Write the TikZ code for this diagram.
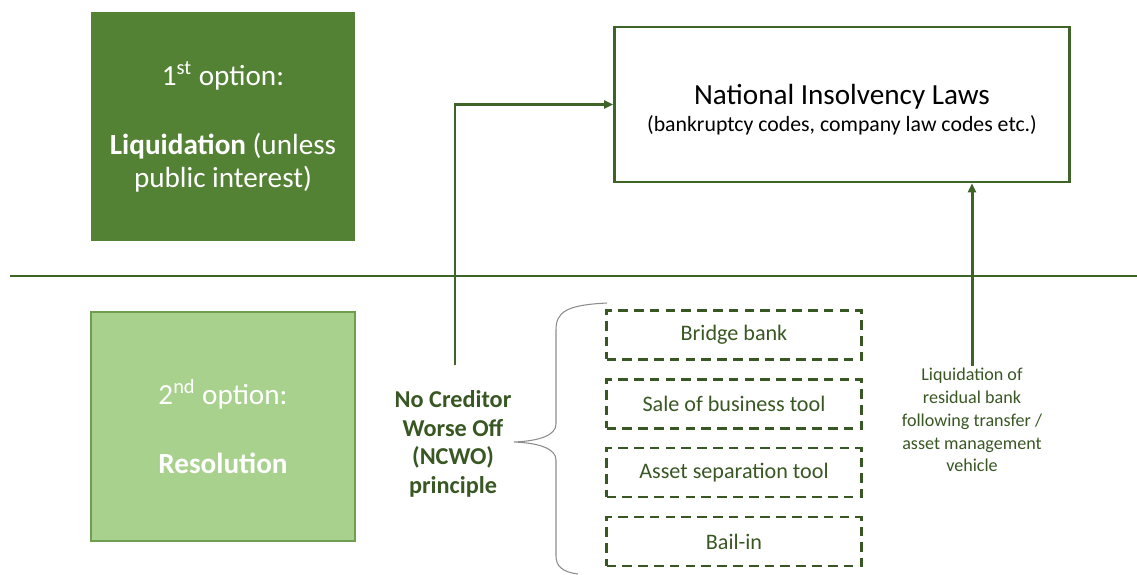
\documentclass[tikz,border=0pt]{standalone}
\usepackage{fontspec}
\setmainfont{Carlito}
\usetikzlibrary{arrows.meta, positioning, calc}
\definecolor{dkgreen}{HTML}{548235}
\definecolor{ltgreen}{HTML}{A9D18E}
\definecolor{ltedge}{HTML}{6E9E4E}
\definecolor{lawgreen}{HTML}{3E6428}
\definecolor{txgreen}{HTML}{385723}
\definecolor{bracegray}{HTML}{8C8C8C}

\begin{document}
\begin{tikzpicture}[
    x=0.02cm, y=-0.02cm,
    >={Triangle[length=1.8mm, width=1.6mm]},
    optbox/.style={rectangle, minimum width=5.28cm, minimum height=4.58cm,
      align=center, text=white, font=\fontsize{16.6}{18.8}\selectfont, inner sep=0pt},
    toolbox/.style={draw=txgreen, line width=1.2pt, dash pattern=on 5.5pt off 3.5pt,
      minimum width=5.1cm, minimum height=0.98cm, text=txgreen,
      font=\fontsize{12.6}{15}\selectfont, inner sep=0pt},
    flow/.style={->, lawgreen, line width=1.7pt},
  ]

  \useasboundingbox (0,0) rectangle (1137,575);

  % === Liquidation (top half) ===
  \node[optbox, fill=dkgreen] (liq) at (223,126.5)
    {1\textsuperscript{st} option:\\[20.5pt]
     \textbf{Liquidation} (unless\\public interest)};

  \node[draw=lawgreen, line width=1.6pt, fill=white, minimum width=9.1cm,
        minimum height=3.1cm, align=center, inner sep=0pt] (nil) at (842,104.5)
    {\rule{0pt}{17pt}{\fontsize{16.6}{19}\selectfont National Insolvency Laws}\\[3.5pt]
     {\fontsize{12.4}{15}\selectfont (bankruptcy codes, company law codes etc.)}};

  % Divider
  \draw[lawgreen, line width=1.7pt] (10,276) -- (1137,276);

  % === Resolution (bottom half) ===
  \node[optbox, fill=ltgreen, draw=ltedge, line width=0.6pt] (res) at (223,426.5)
    {2\textsuperscript{nd} option:\\[21pt]
     \textbf{Resolution}};

  \node[align=center, text=txgreen, font=\bfseries\fontsize{13.8}{16.3}\selectfont]
    (ncwo) at (453,444) {No Creditor\\Worse Off\\(NCWO)\\principle};
  \coordinate (ncwotop) at (455,365);

  % Resolution tools
  \node[toolbox] (bridge) at (734,335) {Bridge bank};
  \node[toolbox] (sale) at (734,404) {Sale of business tool};
  \node[toolbox] (asset) at (734,472.5) {Asset separation tool};
  \node[toolbox] (bail) at (734,541.5) {Bail-in};

  % Brace
  \draw[bracegray, line width=0.6pt]
    (607,303) .. controls (566,305) and (556,312) .. (556,330)
    -- (556,424) .. controls (556,435) and (540,441) .. (514,442)
    .. controls (540,443) and (556,449) .. (556,460)
    -- (556,556) .. controls (556,566) and (562,572) .. (578,574);

  \node[align=center, text=txgreen, font=\fontsize{10.3}{13}\selectfont, inner sep=1pt]
    (resid) at (972,420)
    {Liquidation of\\residual bank\\following transfer /\\asset management\\vehicle};

  % Arrows into national law
  \draw[flow] (ncwotop) |- (nil.west);
  \draw[flow] (resid.north) -- (resid.north |- nil.south);

\end{tikzpicture}
\end{document}
